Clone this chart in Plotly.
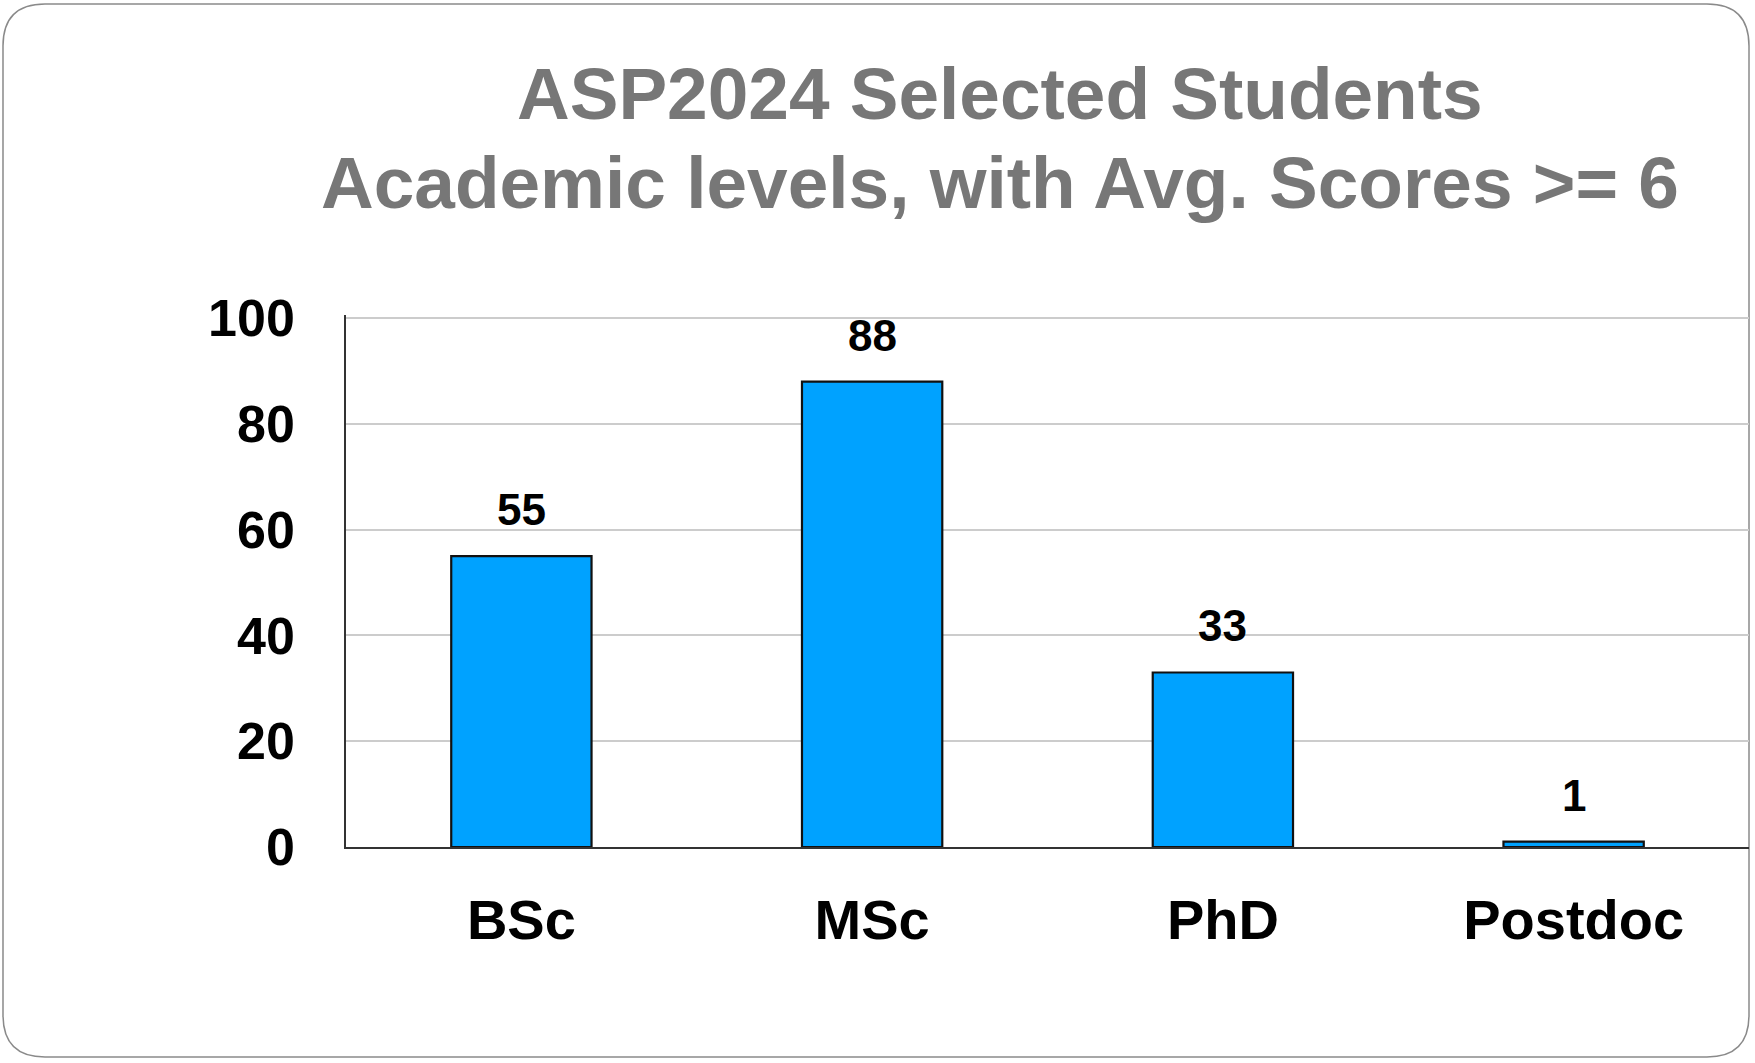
import plotly.graph_objects as go

# ---- data ----
categories = ["BSc", "MSc", "PhD", "Postdoc"]
counts = [55, 88, 33, 1]
y_ticks = [0, 20, 40, 60, 80, 100]
title_lines = ["ASP2024 Selected Students", "Academic levels, with Avg. Scores >= 6"]

# ---- layout geometry (pixels) ----
W, H = 1755, 1063
YMAX = 100.6
L, R, B = 346, 6, 216
T = int(round(318 - 529 * (YMAX - 100) / 100))
pw, ph = W - L - R, H - T - B

def px_to_paper(x, y):
    return (x - L) / pw, (H - B - y) / ph

FONT = "Liberation Sans, Arial, Helvetica, sans-serif"

fig = go.Figure()
fig.add_trace(go.Bar(
    x=categories, y=counts,
    marker=dict(color="#00A2FF", line=dict(color="#111111", width=2.2)),
    hoverinfo="x+y",
))

# value labels above bars
for c, v in zip(categories, counts):
    fig.add_annotation(x=c, y=v, xref="x", yref="y", text=f"<b>{v}</b>",
                       showarrow=False, yanchor="bottom", yshift=20,
                       font=dict(family=FONT, size=44, color="#000000"))

# title lines
for line, py in zip(title_lines, [94, 183]):
    xp, yp = px_to_paper(1000, py)
    fig.add_annotation(x=xp, y=yp, xref="paper", yref="paper", text=f"<b>{line}</b>",
                       showarrow=False, xanchor="center", yanchor="middle",
                       font=dict(family=FONT, size=73, color="#777777"))

# rounded outer border
x0, y0, x1, y1, r = 3, 4, 1749, 1057, 42
def P(x, y):
    a, b = px_to_paper(x, y)
    return f"{a:.5f},{b:.5f}"
path = (f"M {P(x0 + r, y0)} L {P(x1 - r, y0)} Q {P(x1, y0)} {P(x1, y0 + r)} "
        f"L {P(x1, y1 - r)} Q {P(x1, y1)} {P(x1 - r, y1)} "
        f"L {P(x0 + r, y1)} Q {P(x0, y1)} {P(x0, y1 - r)} "
        f"L {P(x0, y0 + r)} Q {P(x0, y0)} {P(x0 + r, y0)} Z")
fig.add_shape(type="path", path=path, xref="paper", yref="paper",
              line=dict(color="#8a8a8a", width=1.5), layer="below")

fig.update_layout(
    width=W, height=H,
    margin=dict(l=L, r=R, t=T, b=B, autoexpand=False),
    paper_bgcolor="white", plot_bgcolor="white",
    bargap=0.6, showlegend=False,
    font=dict(family=FONT),
)
fig.update_xaxes(
    showline=True, linecolor="#333333", linewidth=1.5,
    showgrid=False, ticks="", ticklabelstandoff=23,
    tickfont=dict(family=FONT, size=56, color="#000000", weight="bold"),
    range=[-0.5, 3.5],
)
fig.update_yaxes(
    range=[0, YMAX], tickvals=y_ticks, ticktext=[str(t) for t in y_ticks],
    showline=True, linecolor="#333333", linewidth=1.5,
    showgrid=True, gridcolor="#cccccc", gridwidth=1.5, zeroline=False,
    ticks="", ticklabelstandoff=39,
    tickfont=dict(family=FONT, size=52, color="#000000", weight="bold"),
)

fig.write_html("out.html", config={"displayModeBar": False},
               post_script="document.body.style.margin='0';")
